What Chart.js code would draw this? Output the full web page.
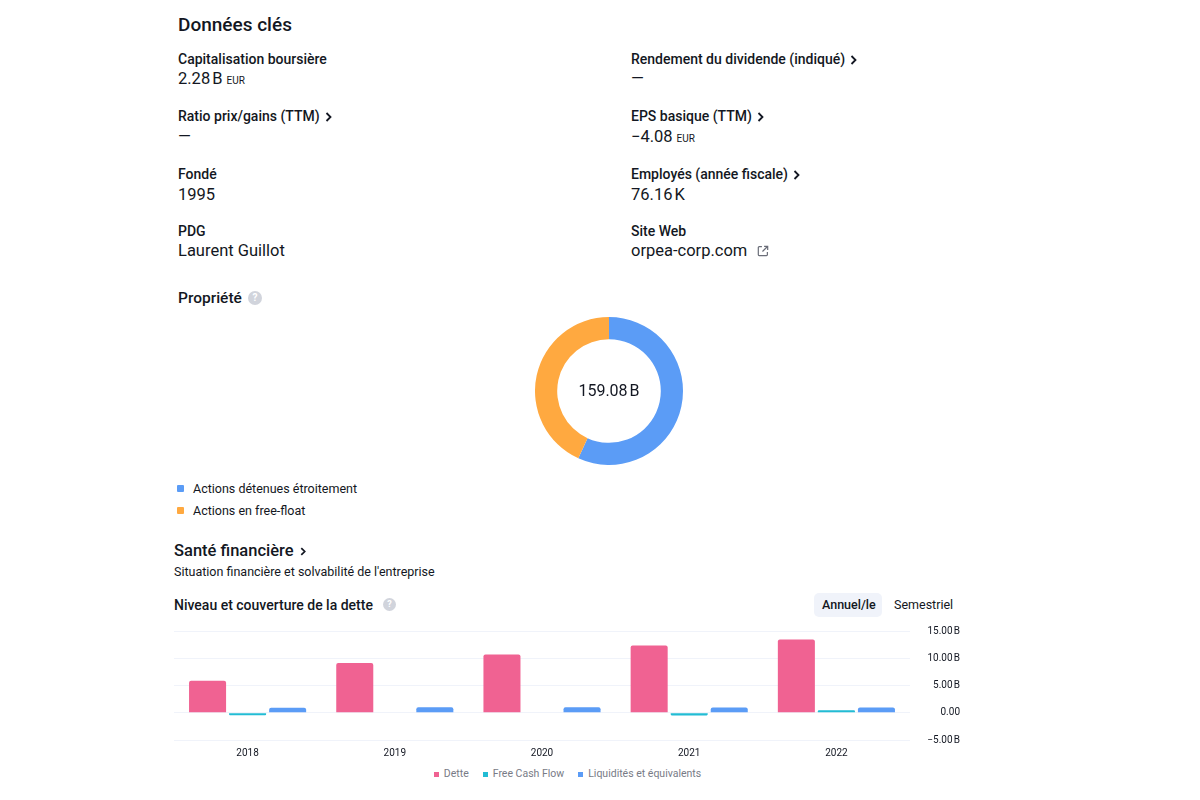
<!DOCTYPE html>
<html lang="fr">
<head>
<meta charset="utf-8">
<title>Données clés</title>
<script src="https://cdn.jsdelivr.net/npm/chart.js@4.4.1/dist/chart.umd.min.js"></script>
<style>
  html, body { margin: 0; padding: 0; background: #fff; }
  body { width: 1200px; height: 800px; position: relative; overflow: hidden;
         font-family: Roboto, "Noto Sans", sans-serif; color: #131722; }
  .t { position: absolute; white-space: nowrap; line-height: 1; }
  .lbl { font-size: 14px; font-weight: 500; }
  .val { font-size: 16.5px; }
  .cur { font-size: 10px; margin-left: 4px; }
  .chev { display: inline-block; width: 7px; height: 10px; margin-left: 5px; vertical-align: -1px; }
  .help { position: absolute; width: 14px; height: 14px; border-radius: 50%; background: #d1d4dc;
          color: #fff; font-size: 10px; font-weight: 700; text-align: center; line-height: 14px; }
  .sq { position: absolute; width: 7px; height: 7px; border-radius: 1px; }
  canvas { position: absolute; }
  #debtLegend { position: absolute; left: 174px; width: 787px; top: 768px; display: flex;
                justify-content: center; font-size: 10.5px; color: #787b86; line-height: 12px; }
  #debtLegend .item { display: flex; align-items: center; margin: 0 7px; }
  #debtLegend .box { width: 5px; height: 5px; margin-right: 5px; }
</style>
</head>
<body>

<div class="t" style="left:178px;top:15px;font-size:19px;font-weight:500;">Données clés</div>

<div class="t lbl" style="left:178px;top:51.5px;">Capitalisation boursière</div>
<div class="t val" style="left:178px;top:70.5px;">2.28&#8201;B<span class="cur">EUR</span></div>
<div class="t lbl" style="left:178px;top:108.5px;">Ratio prix/gains (TTM)<svg class="chev" viewBox="0 0 7 10"><polyline points="1.5,1 5.5,5 1.5,9" fill="none" stroke="#131722" stroke-width="1.8"/></svg></div>
<div class="t val" style="left:178px;top:128.5px;">—</div>
<div class="t lbl" style="left:178px;top:166.5px;">Fondé</div>
<div class="t val" style="left:178px;top:186.5px;">1995</div>
<div class="t lbl" style="left:178px;top:223.5px;">PDG</div>
<div class="t val" style="left:178px;top:243px;">Laurent Guillot</div>

<div class="t lbl" style="left:631px;top:51.5px;">Rendement du dividende (indiqué)<svg class="chev" viewBox="0 0 7 10"><polyline points="1.5,1 5.5,5 1.5,9" fill="none" stroke="#131722" stroke-width="1.8"/></svg></div>
<div class="t val" style="left:631px;top:70.5px;">—</div>
<div class="t lbl" style="left:631px;top:108.5px;">EPS basique (TTM)<svg class="chev" viewBox="0 0 7 10"><polyline points="1.5,1 5.5,5 1.5,9" fill="none" stroke="#131722" stroke-width="1.8"/></svg></div>
<div class="t val" style="left:631px;top:128.5px;">&#8722;4.08<span class="cur">EUR</span></div>
<div class="t lbl" style="left:631px;top:166.5px;">Employés (année fiscale)<svg class="chev" viewBox="0 0 7 10"><polyline points="1.5,1 5.5,5 1.5,9" fill="none" stroke="#131722" stroke-width="1.8"/></svg></div>
<div class="t val" style="left:631px;top:186.5px;">76.16&#8201;K</div>
<div class="t lbl" style="left:631px;top:223.5px;">Site Web</div>
<div class="t val" style="left:631px;top:243px;">orpea-corp.com<svg style="margin-left:10px;vertical-align:-1px" width="12" height="12" viewBox="0 0 11 11"><path d="M4.5 1.5H2a.8.8 0 0 0-.8.8v6.7c0 .4.4.8.8.8h6.7c.4 0 .8-.4.8-.8V6.5M6.5 1.2h3.3v3.3M9.6 1.4 5 6" fill="none" stroke="#6a6d78" stroke-width="1.1"/></svg></div>

<div class="t" style="left:178px;top:290.5px;font-size:15.5px;font-weight:500;">Propriété</div>
<div class="help" style="left:248px;top:291px;">?</div>

<canvas id="ownershipChart" width="148" height="148" style="left:535px;top:317px;"></canvas>
<div class="t" style="left:559px;width:100px;text-align:center;top:383px;font-size:16px;">159.08&#8201;B</div>

<div class="sq" style="left:177px;top:485px;background:#5b9cf6;"></div>
<div class="t" style="left:193px;top:483px;font-size:12.5px;">Actions détenues étroitement</div>
<div class="sq" style="left:177px;top:507px;background:#ffa940;"></div>
<div class="t" style="left:193px;top:505px;font-size:12.5px;">Actions en free-float</div>

<div class="t" style="left:174px;top:543px;font-size:16.5px;font-weight:500;">Santé financière<svg class="chev" style="margin-left:6px;width:6px;height:9px;vertical-align:0" viewBox="0 0 7 10"><polyline points="1.5,1 5.5,5 1.5,9" fill="none" stroke="#131722" stroke-width="2"/></svg></div>
<div class="t" style="left:174px;top:565.5px;font-size:12.5px;">Situation financière et solvabilité de l'entreprise</div>

<div class="t" style="left:174px;top:597.5px;font-size:14px;font-weight:500;">Niveau et couverture de la dette</div>
<div class="help" style="left:383px;top:598px;width:13px;height:13px;line-height:13px;font-size:9px;">?</div>
<div style="position:absolute;left:814px;top:593px;width:68px;height:24px;border-radius:5px;background:#f0f3fa;"></div>
<div class="t" style="left:822px;top:599px;font-size:12.5px;font-weight:500;">Annuel/le</div>
<div class="t" style="left:894px;top:599px;font-size:12.5px;">Semestriel</div>

<canvas id="debtChart" width="787" height="153" style="left:174px;top:613px;"></canvas>
<div id="debtLegend"></div>

<script>
// Propriété (en milliards)
const ownershipLabels = ['Actions détenues étroitement', 'Actions en free-float'];
const ownershipValues = [90.36, 68.72];
const ownershipColors = ['#5b9cf6', '#ffa940'];

// Niveau et couverture de la dette (en milliards EUR)
const years = ['2018', '2019', '2020', '2021', '2022'];
const debt = [5.87, 9.15, 10.68, 12.35, 13.46];
const freeCashFlow = [-0.45, 0.1, -0.1, -0.5, 0.45];
const cashEquivalents = [0.9, 1.0, 1.0, 0.98, 0.98];
const yTicks = [-5, 0, 5, 10, 15];

function formatB(v) {
    if (v === 0) return '0.00';
    return (v < 0 ? '\u2212' : '') + Math.abs(v).toFixed(2) + '\u2009B';
}

new Chart(document.getElementById('ownershipChart'), {
    type: 'doughnut',
    data: {
        labels: ownershipLabels,
        datasets: [{
            data: ownershipValues,
            backgroundColor: ownershipColors,
            borderWidth: 0
        }]
    },
    options: {
        responsive: false,
        animation: false,
        cutout: '70%',
        plugins: {
            legend: { display: false },
            tooltip: { enabled: false }
        }
    }
});

const debtChart = new Chart(document.getElementById('debtChart'), {
    type: 'bar',
    data: {
        labels: years,
        datasets: [
            { label: 'Dette', data: debt, backgroundColor: '#f06292' },
            { label: 'Free Cash Flow', data: freeCashFlow, backgroundColor: '#22bcd4' },
            { label: 'Liquidités et équivalents', data: cashEquivalents, backgroundColor: '#5b9cf6' }
        ]
    },
    options: {
        responsive: false,
        animation: false,
        datasets: {
            bar: {
                categoryPercentage: 0.816,
                barPercentage: 0.925,
                borderRadius: 2
            }
        },
        layout: { padding: { top: 0, right: 1, bottom: 0, left: 0 } },
        plugins: {
            legend: { display: false },
            tooltip: { enabled: false }
        },
        scales: {
            x: {
                grid: { display: false, drawTicks: false },
                border: { display: false },
                ticks: { color: '#131722', font: { family: 'Roboto', size: 10 }, padding: 7 }
            },
            y: {
                position: 'right',
                min: yTicks[0],
                max: yTicks[yTicks.length - 1],
                afterBuildTicks: axis => { axis.ticks = yTicks.map(v => ({ value: v })); },
                afterFit: axis => { axis.width = 50; },
                grid: { color: '#f0f3fa', drawTicks: false },
                border: { display: false },
                ticks: {
                    color: '#131722',
                    font: { family: 'Roboto', size: 10 },
                    padding: 12,
                    crossAlign: 'far',
                    callback: v => formatB(v)
                }
            }
        }
    }
});

// legend under the bar chart, built from the datasets
const legendEl = document.getElementById('debtLegend');
debtChart.data.datasets.forEach(ds => {
    const item = document.createElement('span');
    item.className = 'item';
    const box = document.createElement('span');
    box.className = 'box';
    box.style.background = ds.backgroundColor;
    item.appendChild(box);
    item.appendChild(document.createTextNode(ds.label));
    legendEl.appendChild(item);
});
</script>
</body>
</html>
